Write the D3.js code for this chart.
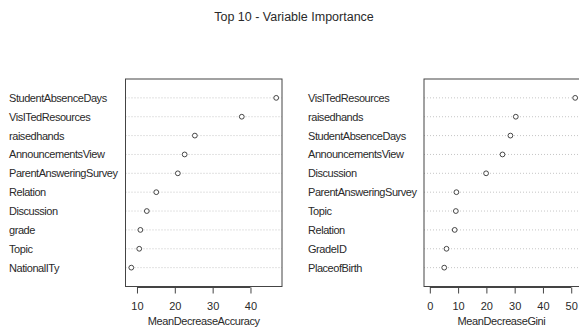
<!DOCTYPE html>
<html>
<head>
<meta charset="utf-8">
<script src="https://cdn.jsdelivr.net/npm/d3@7"></script>
<style>
  body { margin: 0; background: #fff; }
  text { font-family: "Liberation Sans", Arial, sans-serif; fill: #2a2a2a; }
</style>
</head>
<body>
<svg width="579" height="329"></svg>
<script>
// values, listed top row first
const accLabels = ["StudentAbsenceDays", "VisITedResources", "raisedhands", "AnnouncementsView",
  "ParentAnsweringSurvey", "Relation", "Discussion", "grade", "Topic", "NationalITy"];
const accValues = [46.8, 37.7, 25.3, 22.6, 20.8, 15.1, 12.6, 10.9, 10.6, 8.5];

const giniLabels = ["VisITedResources", "raisedhands", "StudentAbsenceDays", "AnnouncementsView",
  "Discussion", "ParentAnsweringSurvey", "Topic", "Relation", "GradeID", "PlaceofBirth"];
const giniValues = [51.4, 30.4, 28.5, 25.7, 19.9, 9.4, 9.2, 8.8, 5.9, 5.1];

const accTicks = [10, 20, 30, 40];
const giniTicks = [0, 10, 20, 30, 40, 50];

const svg = d3.select("svg");

svg.append("text")
  .attr("x", 294).attr("y", 17)
  .attr("text-anchor", "middle")
  .attr("dominant-baseline", "central")
  .style("font-size", "12.5px")
  .text("Top 10 - Variable Importance");

// one dotchart panel, like R's dotchart
function drawPanel(labels, values, ticks, xmin, box, labelX, title) {
  const g = svg.append("g");
  const lo = xmin == null ? d3.min(values) : xmin;
  const hi = d3.max(values);
  const pad = (hi - lo) * 0.04;

  const x = d3.scaleLinear().domain([lo - pad, hi + pad]).range([box.left, box.right]);
  const n = values.length;
  const y = d3.scaleLinear().domain([0, n + 1]).range([box.bottom, box.top]);

  // row i (top first) sits at position n - i
  const rows = values.map((v, i) => ({ label: labels[i], value: v, pos: n - i }));

  g.selectAll(".grid").data(rows).enter().append("line")
    .attr("x1", box.left).attr("x2", box.right)
    .attr("y1", d => y(d.pos)).attr("y2", d => y(d.pos))
    .attr("stroke", "#b8b8b8")
    .attr("stroke-width", 0.8)
    .attr("stroke-dasharray", "1,2");

  g.selectAll(".pt").data(rows).enter().append("circle")
    .attr("cx", d => x(d.value)).attr("cy", d => y(d.pos))
    .attr("r", 2.4)
    .attr("fill", "#fff")
    .attr("stroke", "#333")
    .attr("stroke-width", 0.9);

  g.selectAll(".lab").data(rows).enter().append("text")
    .attr("x", labelX).attr("y", d => y(d.pos))
    .attr("dominant-baseline", "central")
    .style("font-size", "11px")
    .style("letter-spacing", "-0.45px")
    .text(d => d.label);

  g.append("rect")
    .attr("x", box.left).attr("y", box.top)
    .attr("width", box.right - box.left).attr("height", box.bottom - box.top)
    .attr("fill", "none")
    .attr("stroke", "#444")
    .attr("stroke-width", 1);

  const axis = g.append("g").attr("transform", `translate(0,${box.bottom + 1})`)
    .call(d3.axisBottom(x).tickValues(ticks).tickSize(6).tickPadding(9).tickFormat(d3.format("d")));
  axis.select(".domain").attr("stroke", "#444")
    .attr("d", `M${x(ticks[0])},0H${x(ticks[ticks.length - 1])}`);
  axis.selectAll(".tick line").attr("stroke", "#444");
  axis.selectAll(".tick text")
    .style("font-size", "11px")
    .style("font-family", "'Liberation Sans', Arial, sans-serif")
    .attr("fill", "#2a2a2a");

  g.append("text")
    .attr("x", (box.left + Math.min(box.right, 579)) / 2)
    .attr("y", 321)
    .attr("text-anchor", "middle")
    .attr("dominant-baseline", "central")
    .style("font-size", "11px")
    .style("letter-spacing", "-0.4px")
    .text(title);
  return x;
}

drawPanel(accLabels, accValues, accTicks, null,
  { left: 125.5, right: 282, top: 79, bottom: 286.5 }, 9, "MeanDecreaseAccuracy");

drawPanel(giniLabels, giniValues, giniTicks, 0,
  { left: 424, right: 581, top: 79, bottom: 286.5 }, 308, "MeanDecreaseGini");
</script>
</body>
</html>
